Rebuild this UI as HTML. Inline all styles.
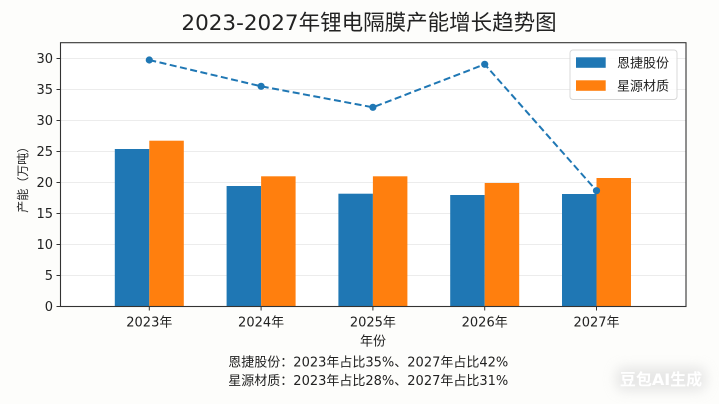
<!DOCTYPE html>
<html>
<head>
<meta charset="utf-8">
<style>
html,body{margin:0;padding:0;background:#fdfdfb;}
svg{display:block;}
text{font-family:"DejaVu Sans","Noto Sans CJK SC",sans-serif;fill:#222;}
</style>
</head>
<body>
<svg width="719" height="404" viewBox="0 0 719 404" xmlns="http://www.w3.org/2000/svg">
<defs>
<filter id="blur" x="-50%" y="-50%" width="200%" height="200%"><feGaussianBlur stdDeviation="6"/></filter>
</defs>
<rect x="0" y="0" width="719" height="404" fill="#fdfdfb"/>
<!-- title -->
<text x="369" y="30" font-size="21.5" text-anchor="middle">2023-2027年锂电隔膜产能增长趋势图</text>
<!-- axes background -->
<rect x="60.5" y="42.7" width="625.5" height="263.8" fill="#ffffff"/>
<!-- gridlines -->
<g stroke="#ececec" stroke-width="1">
<line x1="60.5" x2="686" y1="275.5" y2="275.5"/>
<line x1="60.5" x2="686" y1="244.5" y2="244.5"/>
<line x1="60.5" x2="686" y1="213.5" y2="213.5"/>
<line x1="60.5" x2="686" y1="182.5" y2="182.5"/>
<line x1="60.5" x2="686" y1="151.5" y2="151.5"/>
<line x1="60.5" x2="686" y1="120.5" y2="120.5"/>
<line x1="60.5" x2="686" y1="89.5" y2="89.5"/>
<line x1="60.5" x2="686" y1="58.5" y2="58.5"/>
</g>
<!-- bars -->
<g fill="#1f77b4">
<rect x="114.8" y="149" width="34.5" height="157.5"/>
<rect x="226.6" y="186" width="34.5" height="120.5"/>
<rect x="338.4" y="193.7" width="34.5" height="112.8"/>
<rect x="450.2" y="195" width="34.5" height="111.5"/>
<rect x="562" y="194" width="34.5" height="112.5"/>
</g>
<g fill="#ff7f0e">
<rect x="149.3" y="140.7" width="34.5" height="165.8"/>
<rect x="261.1" y="176.3" width="34.5" height="130.2"/>
<rect x="372.9" y="176.3" width="34.5" height="130.2"/>
<rect x="484.7" y="183" width="34.5" height="123.5"/>
<rect x="596.5" y="178" width="34.5" height="128.5"/>
</g>
<!-- dashed line -->
<polyline points="149.3,60 261.1,86.3 372.9,107.3 484.7,64.3 596.5,190.7" fill="none" stroke="#1f77b4" stroke-width="2" stroke-dasharray="7,3.5"/>
<g fill="#1f77b4">
<circle cx="149.3" cy="60" r="3.6"/>
<circle cx="261.1" cy="86.3" r="3.6"/>
<circle cx="372.9" cy="107.3" r="3.6"/>
<circle cx="484.7" cy="64.3" r="3.6"/>
<circle cx="596.5" cy="190.7" r="3.6"/>
</g>
<!-- spines -->
<rect x="60.5" y="42.7" width="625.5" height="263.8" fill="none" stroke="#333" stroke-width="1.1"/>
<!-- y ticks -->
<g stroke="#333" stroke-width="1">
<line x1="56.5" x2="60.5" y1="306.5" y2="306.5"/>
<line x1="56.5" x2="60.5" y1="275.5" y2="275.5"/>
<line x1="56.5" x2="60.5" y1="244.5" y2="244.5"/>
<line x1="56.5" x2="60.5" y1="213.5" y2="213.5"/>
<line x1="56.5" x2="60.5" y1="182.5" y2="182.5"/>
<line x1="56.5" x2="60.5" y1="151.5" y2="151.5"/>
<line x1="56.5" x2="60.5" y1="120.5" y2="120.5"/>
<line x1="56.5" x2="60.5" y1="89.5" y2="89.5"/>
<line x1="56.5" x2="60.5" y1="58.5" y2="58.5"/>
<line x1="149.3" x2="149.3" y1="306.5" y2="310.5"/>
<line x1="261.1" x2="261.1" y1="306.5" y2="310.5"/>
<line x1="372.9" x2="372.9" y1="306.5" y2="310.5"/>
<line x1="484.7" x2="484.7" y1="306.5" y2="310.5"/>
<line x1="596.5" x2="596.5" y1="306.5" y2="310.5"/>
</g>
<g font-size="13" text-anchor="end">
<text x="53" y="311">0</text>
<text x="53" y="280">5</text>
<text x="53" y="249">10</text>
<text x="53" y="218">15</text>
<text x="53" y="187">20</text>
<text x="53" y="156">25</text>
<text x="53" y="125">30</text>
<text x="53" y="94">35</text>
<text x="53" y="63">30</text>
</g>
<g font-size="13" text-anchor="middle">
<text x="149.3" y="326.5">2023年</text>
<text x="261.1" y="326.5">2024年</text>
<text x="372.9" y="326.5">2025年</text>
<text x="484.7" y="326.5">2026年</text>
<text x="596.5" y="326.5">2027年</text>
<text x="373" y="345.5">年份</text>
</g>
<text transform="translate(27,176.7) rotate(-90)" font-size="12" text-anchor="middle">产能（万吨）</text>
<!-- legend -->
<rect x="570" y="50" width="107" height="49.5" rx="3" fill="#ffffff" fill-opacity="0.85" stroke="#d8d8d8" stroke-width="1"/>
<rect x="576" y="57.3" width="29.7" height="10.5" fill="#1f77b4"/>
<rect x="576" y="80.3" width="29.7" height="10.5" fill="#ff7f0e"/>
<text x="617" y="67.3" font-size="13">恩捷股份</text>
<text x="617" y="90.3" font-size="13">星源材质</text>
<!-- footnotes -->
<text x="228.3" y="366.3" font-size="13">恩捷股份：2023年占比35%、2027年占比42%</text>
<text x="228.3" y="384.8" font-size="13">星源材质：2023年占比28%、2027年占比31%</text>
<!-- watermark -->
<rect x="616" y="367" width="90" height="24" rx="8" fill="#d8d8d8" opacity="0.6" filter="url(#blur)"/>
<text x="661" y="385" font-size="16" font-weight="bold" text-anchor="middle" style="fill:#ffffff">豆包AI生成</text>
</svg>
</body>
</html>
